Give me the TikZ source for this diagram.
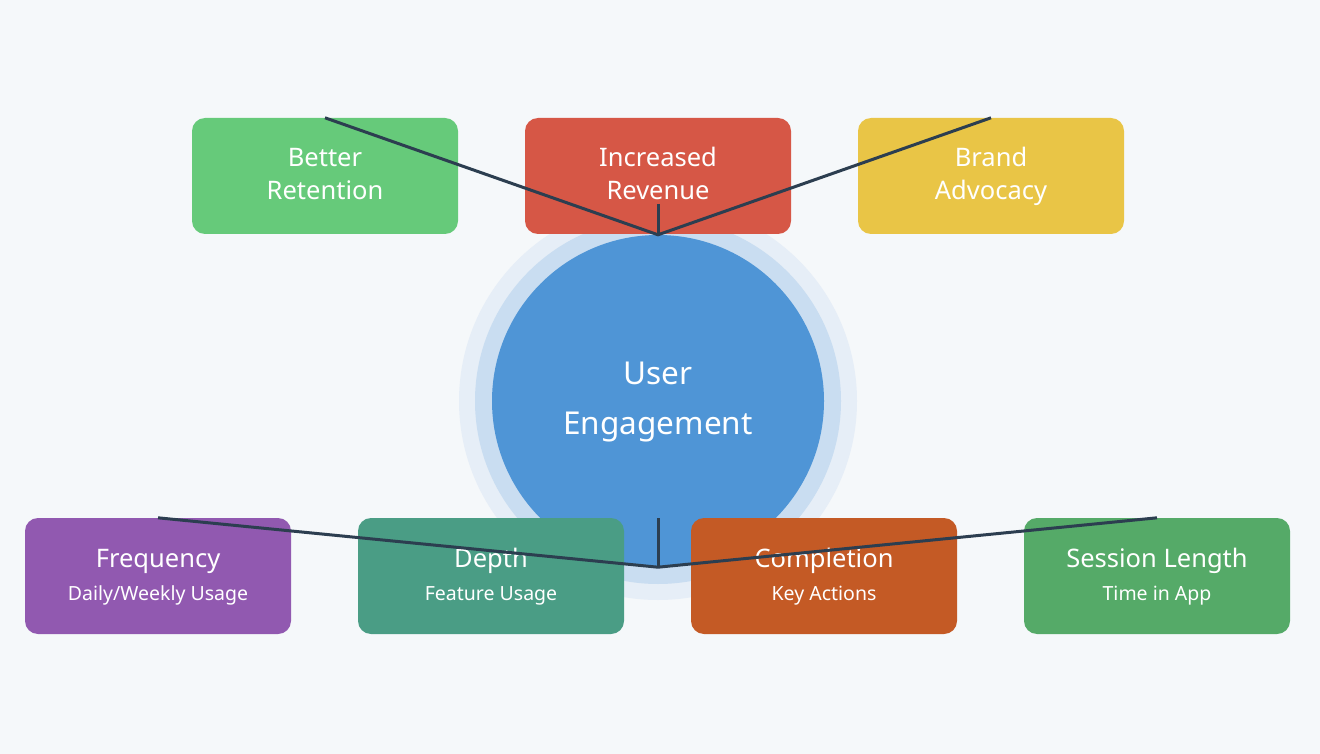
\documentclass[tikz,border=0pt]{standalone}
\usepackage{fontspec}
\setmainfont{Noto Sans}
\definecolor{bg}{HTML}{F5F8FA}
\definecolor{halo1}{HTML}{E6EEF7}
\definecolor{halo2}{HTML}{C9DDF1}
\definecolor{core}{HTML}{4F95D6}
\definecolor{cgreen}{HTML}{66CA7A}
\definecolor{cred}{HTML}{D65746}
\definecolor{cyellow}{HTML}{E9C546}
\definecolor{cpurple}{HTML}{9159B0}
\definecolor{cteal}{HTML}{4A9D85}
\definecolor{corange}{HTML}{C45A25}
\definecolor{cgreen2}{HTML}{55AA68}
\definecolor{link}{HTML}{2C3E50}
\tikzset{
  card/.style={rounded corners=13pt, minimum width=266pt, minimum height=116pt, inner sep=0pt, draw=none},
  ttl/.style={text=white, anchor=base, inner sep=0pt, font=\fontsize{25.5}{30}\selectfont},
  sub/.style={text=white, anchor=base, inner sep=0pt, font=\fontsize{19.5}{24}\selectfont},
  big/.style={text=white, anchor=base, inner sep=0pt, font=\fontsize{31.5}{36}\selectfont},
  conn/.style={draw=link, line width=3pt, line join=miter},
}
\begin{document}
\begin{tikzpicture}[x=1pt,y=-1pt]
\fill[bg] (0,0) rectangle (1320,754);
\useasboundingbox (0,0) rectangle (1320,754);
% halos and core
\fill[halo1] (658,401) circle (199);
\fill[halo2] (658,401) circle (183);
\node[circle, fill=core, minimum size=332pt, inner sep=0pt] (core) at (658,401) {};
\node[big] (coreA) at (658,384) {User};
\node[big] (coreB) at (658,434) {Engagement};
% top cards
\node[card, fill=cgreen] (ret) at (325,176) {};
\node[ttl] (retA) at (325,167) {Better};
\node[ttl] (retB) at (325,200) {Retention};
\node[card, fill=cred] (rev) at (658,176) {};
\node[ttl] (revA) at (658,167) {Increased};
\node[ttl] (revB) at (658,200) {Revenue};
\node[card, fill=cyellow] (adv) at (991,176) {};
\node[ttl] (advA) at (991,167) {Brand};
\node[ttl] (advB) at (991,200) {Advocacy};
% bottom cards
\node[card, fill=cpurple] (freq) at (158,576) {};
\node[ttl] (freqT) at (158,567) {Frequency};
\node[sub] (freqS) at (158,600) {Daily/Weekly Usage};
\node[card, fill=cteal] (dep) at (491,576) {};
\node[ttl] (depT) at (491,567) {Depth};
\node[sub] (depS) at (491,600) {Feature Usage};
\node[card, fill=corange] (comp) at (824,576) {};
\node[ttl] (compT) at (824,567) {Completion};
\node[sub] (compS) at (824,600) {Key Actions};
\node[card, fill=cgreen2] (sess) at (1157,576) {};
\node[ttl] (sessT) at (1157,567) {Session Length};
\node[sub] (sessS) at (1157,600) {Time in App};
% connectors
\coordinate (revstub) at (658,204);
\coordinate (botstub) at (658,518);
\draw[conn] (ret.north) -- (core.north) -- (adv.north);
\draw[conn] (revstub) -- (core.north);
\draw[conn] (freq.north) -- (core.south) -- (sess.north);
\draw[conn] (botstub) -- (core.south);
\end{tikzpicture}
\end{document}
